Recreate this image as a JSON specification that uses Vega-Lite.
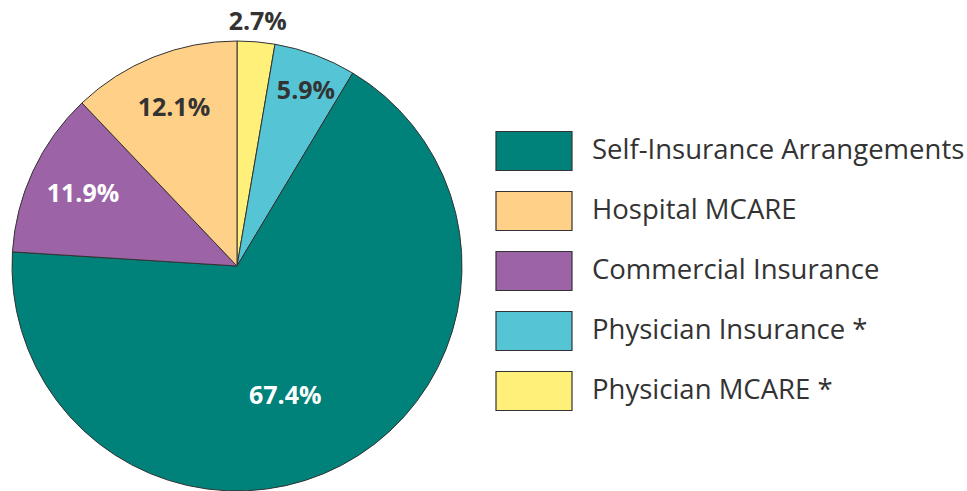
{
  "$schema": "https://vega.github.io/schema/vega-lite/v6.json",
  "width": 450,
  "height": 450,
  "autosize": "none",
  "padding": {"left": 12, "top": 41, "right": 505, "bottom": 0},
  "background": "white",
  "data": {
    "values": [
      {"category": "Physician MCARE *", "share": 0.027, "ord": 1},
      {"category": "Physician Insurance *", "share": 0.059, "ord": 2},
      {"category": "Self-Insurance Arrangements", "share": 0.674, "ord": 3},
      {"category": "Commercial Insurance", "share": 0.119, "ord": 4},
      {"category": "Hospital MCARE", "share": 0.121, "ord": 5}
    ]
  },
  "encoding": {
    "theta": {"field": "share", "type": "quantitative", "stack": true},
    "order": {"field": "ord", "type": "quantitative"}
  },
  "layer": [
    {
      "mark": {"type": "arc", "stroke": "#333333", "strokeWidth": 1, "outerRadius": 225},
      "encoding": {
        "color": {
          "field": "category",
          "type": "nominal",
          "scale": {
            "domain": ["Self-Insurance Arrangements", "Hospital MCARE", "Commercial Insurance", "Physician Insurance *", "Physician MCARE *"],
            "range": ["#00827B", "#FFD088", "#9C63A6", "#55C4D4", "#FFF07A"]
          },
          "legend": {
            "title": null,
            "orient": "none",
            "legendX": 484,
            "legendY": 72,
            "symbolType": "M-1.027,-0.527H1.027V0.527H-1.027Z",
            "symbolSize": 5476,
            "symbolStrokeColor": "#333333",
            "symbolStrokeWidth": 1.2,
            "symbolOpacity": 1,
            "labelFont": "Open Sans",
            "labelFontSize": 27.5,
            "labelColor": "#333333",
            "labelOffset": 20,
            "labelLimit": 500,
            "rowPadding": 0
          }
        }
      }
    },
    {
      "mark": {
        "type": "text",
        "font": "Open Sans",
        "fontWeight": "bold",
        "fontSize": 25,
        "radius": {"expr": "datum.share < 0.03 ? 245 : (datum.share < 0.07 ? 187 : (datum.share > 0.5 ? 138 : 170))"},
        "dx": {"expr": "datum.share > 0.5 ? -16 : (datum.share > 0.05 && datum.share < 0.07 ? 4 : 0)"},
        "dy": {"expr": "datum.share > 0.5 ? 8 : 0"}
      },
      "encoding": {
        "text": {"field": "share", "type": "quantitative", "format": ".1%"},
        "color": {
          "condition": {"test": "datum.category == 'Self-Insurance Arrangements' || datum.category == 'Commercial Insurance'", "value": "white"},
          "value": "#333333"
        }
      }
    }
  ]
}
